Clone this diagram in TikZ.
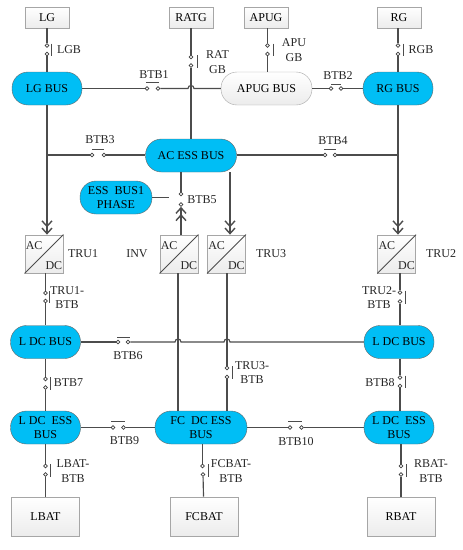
\documentclass[tikz,border=0pt]{standalone}
\usepackage{fontspec}
\setmainfont{Liberation Serif}
\usetikzlibrary{calc,arrows.meta}
\definecolor{busblue}{RGB}{0,190,245}

\begin{document}
\begin{tikzpicture}[
    x=1pt,
    y=-1pt,
    font=\fontsize{12}{14.5}\selectfont,
    >={Straight Barb[length=5.5pt,width=10pt]},
    source/.style={
        rectangle,
        draw=gray!70,
        thick,
        top color=white,
        bottom color=gray!15,
        minimum width=44pt,
        minimum height=21pt,
        inner sep=0pt
    },
    battery/.style={
        source,
        minimum width=68pt,
        minimum height=39pt
    },
    conv/.style={
        source,
        minimum width=38pt,
        minimum height=38pt
    },
    bus/.style={
        rectangle,
        draw=gray!80!black,
        fill=busblue,
        rounded corners=16pt,
        minimum width=70pt,
        minimum height=33pt,
        inner sep=0pt,
        align=center
    },
    widebus/.style={
        bus,
        minimum width=91pt
    },
    greybus/.style={
        widebus,
        draw=gray!70,
        fill=none,
        top color=white,
        bottom color=gray!15
    },
    contact/.style={
        circle,
        draw=black!75,
        fill=white,
        line width=0.8pt,
        minimum size=3.8pt,
        inner sep=0pt
    },
    wire/.style={
        line width=1.15pt,
        black!70
    },
    feed/.style={
        wire,
        line width=1.4pt,
        ->>
    },
    bar/.style={
        line width=1pt,
        black!70
    },
    tag/.style={
        align=center,
        inner sep=0pt,
        text=black!85
    }
]

% --- Generators ---
\node[source] (lg) at (47,17.5) {LG};
\node[source] (ratg) at (191,17.5) {RATG};
\node[source] (apug) at (266,17.5) {APUG};
\node[source] (rg) at (399,17.5) {RG};

% --- AC buses ---
\node[bus] (lgbus) at (47,88.5) {LG BUS};
\node[greybus] (apugbus) at (266.5,88.5) {APUG BUS};
\node[bus] (rgbus) at (398,88.5) {RG BUS};
\node[widebus] (acbus) at (191,155.5) {AC ESS BUS};
\node[bus, minimum width=72pt] (phase) at (116,197.5) {ESS~~BUS1\\PHASE};

% --- Converters ---
\node[conv] (tru1) at (44,254) {};
\node[conv] (inv) at (179,254) {};
\node[conv] (tru3) at (226.5,254) {};
\node[conv] (tru2) at (396.7,254) {};

\draw[bar] (tru1.south west) -- (tru1.north east);
\draw[bar] (inv.south west) -- (inv.north east);
\draw[bar] (tru3.south west) -- (tru3.north east);
\draw[bar] (tru2.south west) -- (tru2.north east);

\node[tag, anchor=north west] (tru1ac) at ($(tru1.north west)+(1,7)$) {AC};
\node[tag, anchor=south east] (tru1dc) at ($(tru1.south east)+(-1,-4)$) {DC};
\node[tag, anchor=north west] (invac) at ($(inv.north west)+(1,7)$) {AC};
\node[tag, anchor=south east] (invdc) at ($(inv.south east)+(-1,-4)$) {DC};
\node[tag, anchor=north west] (tru3ac) at ($(tru3.north west)+(1,7)$) {AC};
\node[tag, anchor=south east] (tru3dc) at ($(tru3.south east)+(-1,-4)$) {DC};
\node[tag, anchor=north west] (tru2ac) at ($(tru2.north west)+(1,7)$) {AC};
\node[tag, anchor=south east] (tru2dc) at ($(tru2.south east)+(-1,-4)$) {DC};

% --- DC buses and batteries ---
\node[bus] (ldcl) at (45.5,342) {L DC BUS};
\node[bus] (ldcr) at (399,342) {L DC BUS};
\node[bus] (essl) at (45.5,427.5) {L DC~~ESS\\BUS};
\node[widebus, minimum width=92pt] (essc) at (201,427.5) {FC~~DC ESS\\BUS};
\node[bus] (essr) at (399,427.5) {L DC~~ESS\\BUS};
\node[battery] (lbat) at (45.5,516.5) {LBAT};
\node[battery] (fcbat) at (204,516.5) {FCBAT};
\node[battery] (rbat) at (401,516.5) {RBAT};

% --- Switch contacts ---
\node[contact] (lgbA) at (47,45.5) {};
\node[contact] (lgbB) at (47,54) {};
\node[contact] (ratA) at (191,57) {};
\node[contact] (ratB) at (191,65.5) {};
\node[contact] (apuA) at (267.5,45.5) {};
\node[contact] (apuB) at (267.5,54) {};
\node[contact] (rgbA) at (398,45.5) {};
\node[contact] (rgbB) at (398,54) {};
\node[contact] (btb1A) at (147,88.5) {};
\node[contact] (btb1B) at (158,88.5) {};
\node[contact] (btb2A) at (331,88.5) {};
\node[contact] (btb2B) at (341,88.5) {};
\node[contact] (btb3A) at (92,155) {};
\node[contact] (btb3B) at (104,155) {};
\node[contact] (btb4A) at (325,155) {};
\node[contact] (btb4B) at (335,155) {};
\node[contact] (btb5A) at (181,194) {};
\node[contact] (btb5B) at (181,204.5) {};
\node[contact] (truoneA) at (45.5,293) {};
\node[contact] (truoneB) at (45.5,301) {};
\node[contact] (trutwoA) at (400,292.5) {};
\node[contact] (trutwoB) at (400,301.5) {};
\node[contact] (truthreeA) at (227,368) {};
\node[contact] (truthreeB) at (227,377) {};
\node[contact] (btb6A) at (118,342) {};
\node[contact] (btb6B) at (128,342) {};
\node[contact] (btb7A) at (45.5,379) {};
\node[contact] (btb7B) at (45.5,387.5) {};
\node[contact] (btb8A) at (400,377.5) {};
\node[contact] (btb8B) at (400,386) {};
\node[contact] (btb9A) at (113,427.5) {};
\node[contact] (btb9B) at (123.5,427.5) {};
\node[contact] (btb10A) at (290,427.5) {};
\node[contact] (btb10B) at (301.5,427.5) {};
\node[contact] (lbatA) at (45.5,466) {};
\node[contact] (lbatB) at (45.5,474.5) {};
\node[contact] (fcbatA) at (202.5,466) {};
\node[contact] (fcbatB) at (203,474.5) {};
\node[contact] (rbatA) at (401,466) {};
\node[contact] (rbatB) at (401,474.5) {};

% --- Switch bars ---
\draw[bar] ($(lgbA)+(4,-2)$) -- ($(lgbB)+(4,2)$);
\draw[bar] ($(ratA)+(6,-2)$) -- ($(ratB)+(6,2)$);
\draw[bar] ($(apuA)+(6,-2)$) -- ($(apuB)+(6,2)$);
\draw[bar] ($(rgbA)+(5.5,-2)$) -- ($(rgbB)+(5.5,2)$);
\draw[bar] ($(btb1A)+(-1,-6)$) -- ($(btb1B)+(1,-6)$);
\draw[bar] ($(btb2A)+(0,-4)$) -- ($(btb2B)+(0,-4)$);
\draw[bar] ($(btb3A)+(0,-6)$) -- ($(btb3B)+(0,-6)$);
\draw[bar] ($(btb4A)+(-1,-6)$) -- ($(btb4B)+(1,-6)$);
\draw[bar] ($(truoneA)+(4,-2)$) -- ($(truoneB)+(4,2)$);
\draw[bar] ($(trutwoA)+(5,-2)$) -- ($(trutwoB)+(5,2)$);
\draw[bar] ($(truthreeA)+(5,-2)$) -- ($(truthreeB)+(5,2)$);
\draw[bar] ($(btb6A)+(-1,-5)$) -- ($(btb6B)+(2,-5)$);
\draw[bar] ($(btb7A)+(5,-2)$) -- ($(btb7B)+(5,2)$);
\draw[bar] ($(btb8A)+(5,-2)$) -- ($(btb8B)+(5,2)$);
\draw[bar] ($(btb9A)+(-2,-6.5)$) -- ($(btb9B)+(1,-6.5)$);
\draw[bar] ($(btb10A)+(-2,-6.5)$) -- ($(btb10B)+(0,-6.5)$);
\draw[bar] ($(lbatA)+(5,-2)$) -- ($(lbatB)+(5,2)$);
\draw[bar] ($(fcbatA)+(5.5,-2)$) -- ($(fcbatB)+(5,2)$);
\draw[bar] ($(rbatA)+(5,-2)$) -- ($(rbatB)+(5,2)$);

% --- Generator feeders ---
\draw[wire] (lg) -- (lgbA);
\draw[wire] (lgbB) -- (lgbus);
\draw[wire] (ratg) -- (ratA);
\draw[wire] (ratB) -- (acbus);
\draw[wire] (apug.south -| apuA) -- (apuA);
\draw[wire] (apuB) -- (apuB |- apugbus.north);
\draw[wire] (rg.south -| rgbA) -- (rgbA);
\draw[wire] (rgbB) -- (rgbus);

% --- AC ties ---
\coordinate (hopA) at (191,88.5);
\coordinate (phaseend) at (168.5,197.5);
\coordinate (tru3in) at (230,172);

\draw[wire] (lgbus) -- (btb1A);
\draw[wire] (btb1B) -- ($(hopA)+(-3,0)$) .. controls ($(hopA)+(-3,-4)$) and ($(hopA)+(3,-4)$) .. ($(hopA)+(3,0)$) -- (apugbus);
\draw[wire] (apugbus) -- (btb2A);
\draw[wire] (btb2B) -- (rgbus);
\draw[wire] (btb3A -| lgbus.south) -- (btb3A);
\draw[wire] (btb3B) -- (btb3B -| acbus.west);
\draw[wire] (btb4A -| acbus.east) -- (btb4A);
\draw[wire] (btb4B) -- (btb4B -| rgbus.south);
\draw[wire] (phase) -- (phaseend);
\draw[wire] (btb5A |- acbus.south) -- (btb5A);

% --- Converter feeders ---
\draw[feed] (lgbus.south) -- (lgbus.south |- tru1.north);
\draw[feed] (inv.north -| btb5B) -- (btb5B);
\draw[feed] (tru3in) -- (tru3in |- tru3.north);
\draw[feed] (rgbus.south) -- (rgbus.south |- tru2.north);

% --- DC side ---
\coordinate (hopB) at (178,342);
\coordinate (hopC) at (227,342);

\draw[wire] (tru1.south -| truoneA) -- (truoneA);
\draw[wire] (truoneB) -- (ldcl);
\draw[wire] (tru2.south -| trutwoA) -- (trutwoA);
\draw[wire] (trutwoB) -- (trutwoB |- ldcr.north);
\draw[wire] (ldcl) -- (btb6A);
\draw[wire] (btb6B) -- ($(hopB)+(-3,0)$) .. controls ($(hopB)+(-3,-4)$) and ($(hopB)+(3,-4)$) .. ($(hopB)+(3,0)$) -- ($(hopC)+(-3,0)$) .. controls ($(hopC)+(-3,-4)$) and ($(hopC)+(3,-4)$) .. ($(hopC)+(3,0)$) -- (ldcr);
\draw[wire, line width=1.4pt] (inv.south -| hopB) -- (hopB |- essc.north);
\draw[wire] (tru3.south -| truthreeA) -- (truthreeA);
\draw[wire] (truthreeB) -- (truthreeB |- essc.north);
\draw[wire] (ldcl) -- (btb7A);
\draw[wire] (btb7B) -- (essl);
\draw[wire] (btb8A |- ldcr.south) -- (btb8A);
\draw[wire] (btb8B) -- (btb8B |- essr.north);
\draw[wire] (essl) -- (btb9A);
\draw[wire] (btb9B) -- (essc);
\draw[wire] (essc) -- (btb10A);
\draw[wire] (btb10B) -- (essr);

% --- Batteries ---
\draw[wire] (essl) -- (lbatA);
\draw[wire] (lbatB) -- (lbat);
\draw[wire] (essc.south -| fcbatA) -- (fcbatA);
\draw[wire] (fcbatB) -- (fcbat);
\draw[wire] (essr.south -| rbatA) -- (rbatA);
\draw[wire] (rbatB) -- (rbat);

% --- Labels ---
\node[tag] (lgblabel) at (69,50) {LGB};
\node[tag] (ratlabel) at (217.5,62) {RAT\\GB};
\node[tag] (apulabel) at (294,50) {APU\\GB};
\node[tag] (rgblabel) at (421,50) {RGB};
\node[tag] (btb1label) at (154,75) {BTB1};
\node[tag] (btb2label) at (338,75.5) {BTB2};
\node[tag] (btb3label) at (100,140) {BTB3};
\node[tag] (btb4label) at (333,141) {BTB4};
\node[tag] (btb5label) at (202,199.5) {BTB5};
\node[tag] (tru1label) at (83,254) {TRU1};
\node[tag] (invlabel) at (137,254) {INV};
\node[tag] (tru3label) at (271,254) {TRU3};
\node[tag] (tru2label) at (441,254) {TRU2};
\node[tag] (truonelabel) at (67,297.5) {TRU1-\\BTB};
\node[tag] (trutwolabel) at (379,297.5) {TRU2-\\BTB};
\node[tag] (truthreelabel) at (252,372.5) {TRU3-\\BTB};
\node[tag] (btb6label) at (128,356) {BTB6};
\node[tag] (btb7label) at (68.5,383) {BTB7};
\node[tag] (btb8label) at (380,382.5) {BTB8};
\node[tag] (btb9label) at (124.5,441) {BTB9};
\node[tag] (btb10label) at (296,441.5) {BTB10};
\node[tag] (lbatlabel) at (73,471) {LBAT-\\BTB};
\node[tag] (fcbatlabel) at (231,471) {FCBAT-\\BTB};
\node[tag] (rbatlabel) at (431,471) {RBAT-\\BTB};

\useasboundingbox (0,0) rectangle (463,550);

\end{tikzpicture}
\end{document}
